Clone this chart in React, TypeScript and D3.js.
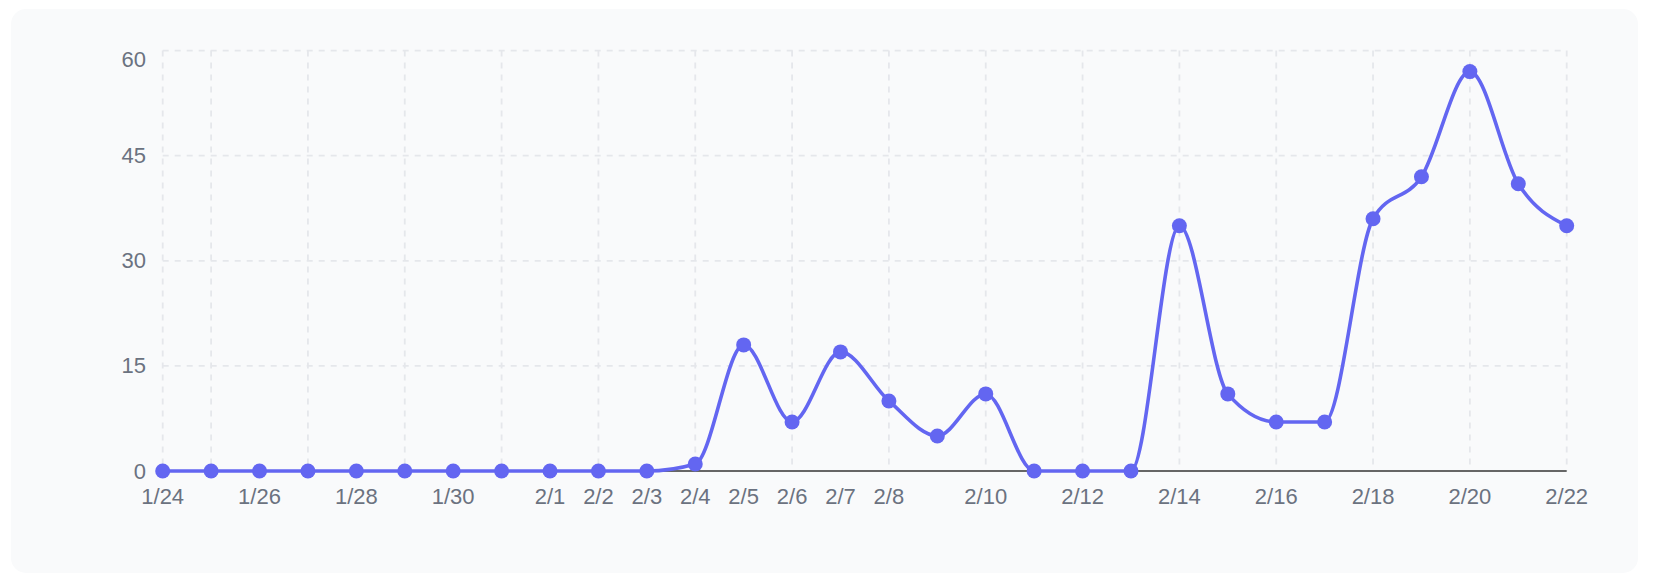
import React from "react";
import * as d3 from "d3";

const dates = [
  "1/24", "1/25", "1/26", "1/27", "1/28", "1/29", "1/30", "1/31",
  "2/1", "2/2", "2/3", "2/4", "2/5", "2/6", "2/7", "2/8", "2/9", "2/10",
  "2/11", "2/12", "2/13", "2/14", "2/15", "2/16", "2/17", "2/18", "2/19",
  "2/20", "2/21", "2/22",
];
const values = [
  0, 0, 0, 0, 0, 0, 0, 0, 0, 0, 0, 1, 18, 7, 17, 10, 5, 11, 0, 0, 0, 35,
  11, 7, 7, 36, 42, 57, 41, 35,
];
const xTickLabels = [
  "1/24", "1/26", "1/28", "1/30", "2/1", "2/2", "2/3", "2/4", "2/5", "2/6",
  "2/7", "2/8", "2/10", "2/12", "2/14", "2/16", "2/18", "2/20", "2/22",
];
const yTicks = [0, 15, 30, 45, 60];

const W = 1656;
const H = 586;
const left = 162.7;
const right = 1566.7;
const top = 50.6;
const bottom = 471;
const font = "'Liberation Sans', Arial, Helvetica, sans-serif";
const textColor = "#6b7280";
const lineColor = "#6366f1";

export default function App() {
  const x = d3.scalePoint<string>().domain(dates).range([left, right]);
  const y = d3.scaleLinear().domain([0, 60]).range([bottom, top]);
  const line = d3
    .line<number>()
    .x((_, i) => x(dates[i]) as number)
    .y((d) => y(d))
    .curve(d3.curveMonotoneX);

  const vGrid = dates.filter((_, i) => i === 0 || i % 2 === 1);

  return (
    <svg
      width={W}
      height={H}
      style={{ position: "absolute", left: 0, top: 0 }}
    >
      <rect x={0} y={0} width={W} height={H} fill="#ffffff" />
      <rect x={11} y={9} width={1627} height={564} rx={15} fill="#f9fafb" />
      <g stroke="#e5e7eb" strokeWidth={1.8} strokeDasharray="6 6" fill="none">
        {yTicks
          .filter((t) => t !== 0)
          .map((t) => (
            <line key={"h" + t} x1={left} x2={right} y1={y(t)} y2={y(t)} />
          ))}
        {vGrid.map((d) => (
          <line
            key={"v" + d}
            x1={x(d)}
            x2={x(d)}
            y1={top}
            y2={bottom}
          />
        ))}
      </g>
      <line
        x1={left}
        x2={right}
        y1={bottom}
        y2={bottom}
        stroke="#666"
        strokeWidth={1.8}
      />
      <g fontFamily={font} fontSize={22} fill={textColor}>
        {yTicks.map((t) => (
          <text
            key={"yl" + t}
            x={146}
            y={Math.max(y(t), top + 8.5)}
            textAnchor="end"
            dominantBaseline="central"
          >
            {t}
          </text>
        ))}
        {xTickLabels.map((d) => (
          <text key={"xl" + d} x={x(d)} y={503.5} textAnchor="middle">
            {d}
          </text>
        ))}
      </g>
      <path
        d={line(values) || ""}
        fill="none"
        stroke={lineColor}
        strokeWidth={3.6}
      />
      {values.map((v, i) => (
        <circle
          key={"p" + i}
          cx={x(dates[i])}
          cy={y(v)}
          r={7.5}
          fill={lineColor}
        />
      ))}
    </svg>
  );
}
